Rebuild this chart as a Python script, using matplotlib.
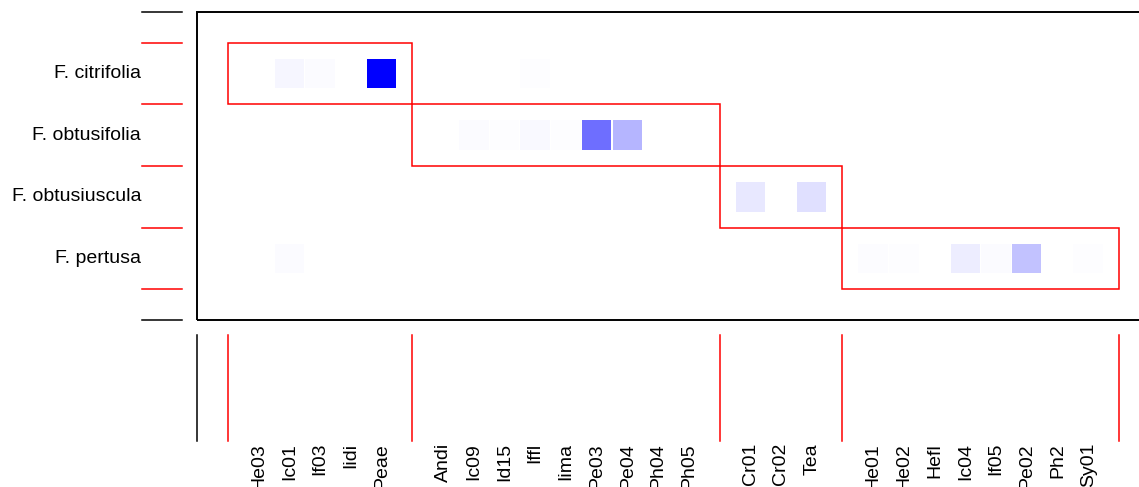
import numpy as np
import matplotlib
matplotlib.use("Agg")
import matplotlib.pyplot as plt
from matplotlib.patches import Rectangle

plt.rcParams["font.family"] = ["Liberation Sans", "DejaVu Sans"]

figs = ["F. citrifolia", "F. obtusifolia", "F. obtusiuscula", "F. pertusa"]

# wasp columns, grouped by module (one group per fig species)
groups = [
    ["He03", "Ic01", "If03", "Iidi", "Peae"],
    ["Andi", "Ic09", "Id15", "Iffl", "Iima", "Pe03", "Pe04", "Ph04", "Ph05"],
    ["Cr01", "Cr02", "Tea"],
    ["He01", "He02", "Hefl", "Ic04", "If05", "Pe02", "Ph2", "Sy01"],
]

# relative interaction strength (share of the strongest link)
citrifolia = {"Ic01": 0.035, "If03": 0.015, "Iffl": 0.008, "Peae": 1.0}
obtusifolia = {"Ic09": 0.015, "Id15": 0.008, "Iffl": 0.025, "Iima": 0.008,
               "Pe03": 0.57, "Pe04": 0.29}
obtusiuscula = {"Cr01": 0.09, "Tea": 0.12}
pertusa = {"Ic01": 0.015, "He01": 0.012, "He02": 0.008, "Ic04": 0.07,
           "If05": 0.015, "Pe02": 0.24, "Sy01": 0.008}
links = [citrifolia, obtusifolia, obtusiuscula, pertusa]

# column positions: one empty unit between modules
col_x = {}
bounds = [1]
pos = 1
for g in groups:
    for name in g:
        pos += 1
        col_x[name] = pos
    pos += 1
    bounds.append(pos)

n_rows = len(figs)
height = 2 * n_rows + 2
row_y = [height - 2 - 2 * i for i in range(n_rows)]
row_bounds = [height - 1 - 2 * i for i in range(n_rows + 1)]
width = bounds[-1] + 1

fig = plt.figure(figsize=(11.39, 4.87), dpi=100)
ax = fig.add_axes([197.3 / 1139, 167 / 487, width * 30.72 / 1139, 308 / 487])
ax.set_xlim(0, width)
ax.set_ylim(0, height)
ax.axis("off")

ax.add_patch(Rectangle((0, 0), width, height, fill=False, ec="black", lw=1.4,
                       clip_on=False))

# interaction cells
s = 0.96
for i, d in enumerate(links):
    for name, v in d.items():
        c = (1 - v, 1 - v, 1.0)
        ax.add_patch(Rectangle((col_x[name] - s / 2, row_y[i] - s / 2), s, s,
                               fc=c, ec="none"))

# module boxes
for k in range(n_rows):
    x0, x1 = bounds[k], bounds[k + 1]
    y0, y1 = row_bounds[k + 1], row_bounds[k]
    ax.add_patch(Rectangle((x0, y0), x1 - x0, y1 - y0, fill=False,
                           ec="red", lw=1.1, clip_on=False))

# left margin ticks
for yb in [0, height]:
    ax.plot([-1.8, -0.5], [yb, yb], color="black", lw=1.1, clip_on=False)
for yb in row_bounds:
    ax.plot([-1.8, -0.5], [yb, yb], color="red", lw=1.1, clip_on=False)

# bottom margin ticks
ax.plot([0, 0], [-0.49, -3.93], color="black", lw=1.1, clip_on=False)
for xb in bounds:
    ax.plot([xb, xb], [-0.49, -3.93], color="red", lw=1.1, clip_on=False)

for i, name in enumerate(figs):
    ax.text(-1.83, row_y[i], name, ha="right", va="center", fontsize=14)

for name, x in col_x.items():
    ax.text(x, -3.99, name, ha="center", va="top", rotation=90, fontsize=14)

fig.savefig("out.png", dpi=100)
